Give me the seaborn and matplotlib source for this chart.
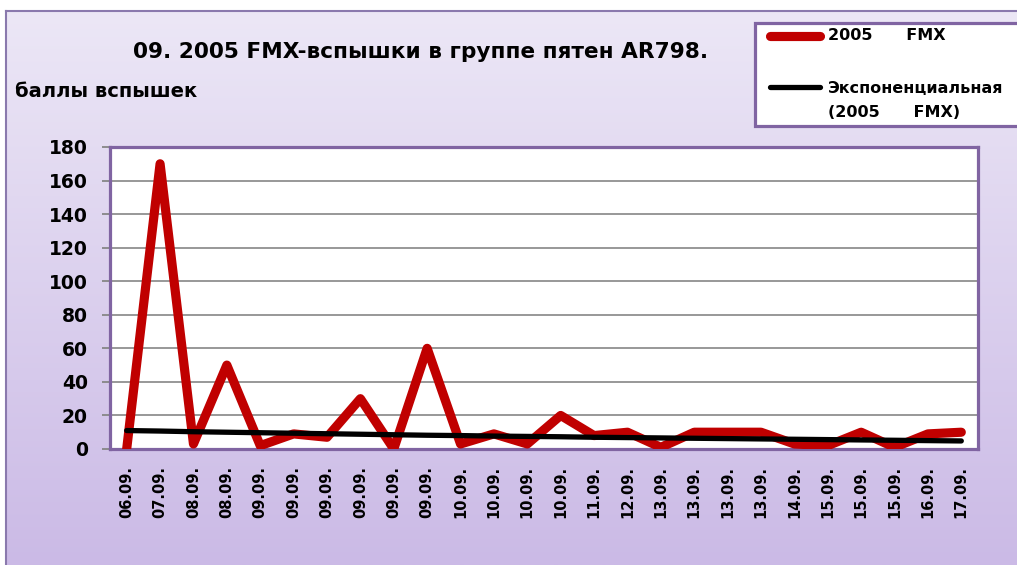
import numpy as np
import pandas as pd
import seaborn as sns
import matplotlib.pyplot as plt
from matplotlib.colors import LinearSegmentedColormap
from matplotlib.lines import Line2D
from matplotlib.patches import Rectangle

# data
dates = ['06.09.', '07.09.', '08.09.', '08.09.', '09.09.', '09.09.', '09.09.', '09.09.', '09.09.',
         '09.09.', '10.09.', '10.09.', '10.09.', '10.09.', '11.09.', '12.09.', '13.09.', '13.09.',
         '13.09.', '13.09.', '14.09.', '15.09.', '15.09.', '15.09.', '16.09.', '17.09.']
fmx = [0, 170, 3, 50, 2, 9, 7, 30, 0, 60, 3, 9, 3, 20, 8, 10, 1, 10, 10, 10, 3, 2, 10, 1, 9, 10]
trend = [11.0, 10.7, 10.3, 10.0, 9.7, 9.4, 9.1, 8.8, 8.5, 8.2, 8.0, 7.7, 7.5, 7.3, 7.0, 6.8,
         6.6, 6.4, 6.2, 6.0, 5.8, 5.6, 5.4, 5.2, 5.0, 4.8]
yticks = [0, 20, 40, 60, 80, 100, 120, 140, 160, 180]

title = '09. 2005 FMX-вспышки в группе пятен AR798.'
ylabel = 'баллы вспышек'
label_fmx = '2005      FMX'
label_trend = 'Экспоненциальная\n(2005      FMX)'

sns.set_style('white')
plt.rcParams['font.family'] = ['DejaVu Sans']
plt.rcParams['font.weight'] = 'bold'
plt.rcParams['text.color'] = 'black'
plt.rcParams['xtick.color'] = 'black'
plt.rcParams['ytick.color'] = 'black'

df = pd.DataFrame({'pos': np.arange(len(dates)), 'date': dates, 'fmx': fmx, 'trend': trend})

W, H = 1017, 565
fig = plt.figure(figsize=(W / 100, H / 100), dpi=100)
fig.patch.set_facecolor('white')


def fx(px):
    return px / W


def fy(py):
    return 1 - py / H


# chart area with lavender gradient
bg = fig.add_axes([fx(6), 0, 1 - fx(6), fy(11)])
cmap = LinearSegmentedColormap.from_list('lav', ['#ece7f6', '#cbbae6'])
bg.imshow(np.linspace(0, 1, 256).reshape(-1, 1), aspect='auto', cmap=cmap,
          extent=[0, 1, 0, 1], origin='upper')
bg.set_xlim(0, 1)
bg.set_ylim(0, 1)
bg.set_xticks([])
bg.set_yticks([])
for side in ['right', 'bottom']:
    bg.spines[side].set_visible(False)
bg.spines['top'].set_color('#8a79ad')
bg.spines['left'].set_color('#8a79ad')
bg.spines['top'].set_linewidth(1.5)
bg.spines['left'].set_linewidth(1.5)
bg.set_zorder(-5)

ax = fig.add_axes([fx(110), fy(449), fx(978 - 110), (449 - 147) / H])
ax.set_facecolor('white')

sns.lineplot(data=df, x='pos', y='fmx', ax=ax, color='#c00000', linewidth=6.6,
             sort=False, zorder=3, legend=False)
sns.lineplot(data=df, x='pos', y='trend', ax=ax, color='black', linewidth=3.8,
             sort=False, zorder=4, legend=False)
for ln in ax.lines:
    ln.set_solid_capstyle('round')
    ln.set_solid_joinstyle('round')

ax.set_xlim(-0.5, len(dates) - 0.5)
ax.set_ylim(0, 180)
ax.set_yticks(yticks)
ax.set_yticklabels([str(v) for v in yticks], fontsize=13.5, fontweight='bold')
ax.set_xticks(df['pos'])
ax.set_xticklabels(dates, rotation=90, fontsize=10.5, fontweight='bold')
ax.set_xticks(np.arange(-0.5, len(dates), 1), minor=True)
ax.tick_params(axis='x', which='major', length=0, pad=12)
ax.tick_params(axis='x', which='minor', length=6, width=1.3, color='#868686', direction='out')
ax.tick_params(axis='y', length=6, width=1.3, color='#868686', direction='out', pad=10, left=True)
ax.grid(axis='y', color='#868686', linewidth=1.2)
ax.set_axisbelow(True)
ax.set_xlabel('')
ax.set_ylabel('')
for s in ax.spines.values():
    s.set_color('#8064a2')
    s.set_linewidth(2.3)

fig.text(fx(421), fy(52), title, ha='center', va='center', fontsize=15.6, fontweight='bold')
fig.text(fx(15), fy(92), ylabel, ha='left', va='center', fontsize=14, fontweight='bold')

# legend box
fig.add_artist(Rectangle((fx(755), fy(126)), fx(300), (126 - 23) / H, transform=fig.transFigure,
                         facecolor='white', edgecolor='#8064a2', linewidth=2.3, zorder=5))
fig.add_artist(Line2D([fx(770), fx(820)], [fy(36), fy(36)], transform=fig.transFigure,
                      color='#c00000', linewidth=6.6, solid_capstyle='round', zorder=6))
fig.add_artist(Line2D([fx(770), fx(820)], [fy(87), fy(87)], transform=fig.transFigure,
                      color='black', linewidth=3.8, solid_capstyle='round', zorder=6))
fig.text(fx(828), fy(36), label_fmx, ha='left', va='center', fontsize=11.5, fontweight='bold', zorder=7)
fig.text(fx(828), fy(100.5), label_trend, ha='left', va='center', fontsize=11.5, fontweight='bold',
         linespacing=1.75, zorder=7)

fig.savefig('out.png', dpi=100, facecolor='white')
